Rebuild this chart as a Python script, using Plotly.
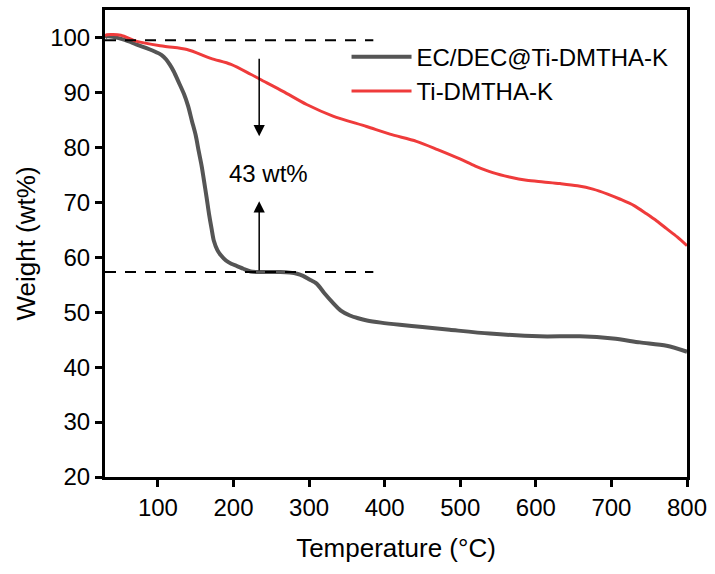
import plotly.graph_objects as go

# EC/DEC@Ti-DMTHA-K (gray)
ec_temp = [30, 33, 55, 72, 95, 105, 111, 116, 121, 127, 134.5, 140, 145, 150, 154, 158, 161, 164.5, 167.6,
           171, 174, 178.7, 183.6, 190, 197, 204.6, 213, 222.7, 235, 250, 262, 274.7, 284, 292, 300, 310,
           320, 331.6, 342, 354, 365, 376.6, 395, 420, 450, 486, 539, 605, 658, 702, 737.7, 773, 800]
ec_weight = [100.0, 100.2, 99.6, 98.7, 97.5, 96.8, 96.0, 95.0, 93.8, 92.0, 89.7, 87.5, 84.8, 82.2, 79.3, 76.5, 73.9, 70.8, 67.9,
             65.2, 63.0, 61.3, 60.3, 59.4, 58.8, 58.4, 57.9, 57.4, 57.3, 57.3, 57.3, 57.2, 57.0, 56.6, 56.0, 55.2,
             53.5, 51.7, 50.3, 49.4, 48.9, 48.5, 48.1, 47.7, 47.3, 46.8, 46.1, 45.6, 45.6, 45.2, 44.5, 43.9, 42.8]

# Ti-DMTHA-K (red)
ti_temp = [30, 32.6, 51, 72, 108, 138.5, 170, 196.7, 222.7, 235, 265.5, 296.8, 331.6, 376, 407, 442,
           470, 499.6, 520, 543, 565, 587.8, 610, 632, 655, 675.5, 695, 711, 730, 746.5, 760, 773, 787, 800]
ti_weight = [100.3, 100.5, 100.4, 99.3, 98.4, 97.8, 96.2, 95.1, 93.3, 92.4, 90.2, 87.8, 85.7, 83.8, 82.4, 81.1,
             79.6, 77.9, 76.6, 75.4, 74.6, 74.0, 73.7, 73.4, 73.0, 72.4, 71.5, 70.6, 69.4, 67.9, 66.6, 65.2, 63.7, 62.1]

ref_levels = [99.5, 57.3]
ref_x_end = 385
arrow_x = 234
down_arrow = [96.4, 82.0]
up_arrow = [57.3, 70.2]
loss_label = "43 wt%"
loss_pos = [246, 75.3]

FONT = "Liberation Sans, Arial, sans-serif"

fig = go.Figure()
fig.add_trace(go.Scatter(x=ec_temp, y=ec_weight, mode="lines", name="EC/DEC@Ti-DMTHA-K",
                         line=dict(color="#555555", width=4, shape="spline", smoothing=0.8)))
fig.add_trace(go.Scatter(x=ti_temp, y=ti_weight, mode="lines", name="Ti-DMTHA-K",
                         line=dict(color="#EF3B3B", width=3, shape="spline", smoothing=0.8)))

for lv in ref_levels:
    fig.add_shape(type="line", xref="x", yref="y", x0=30, x1=ref_x_end, y0=lv, y1=lv,
                  line=dict(color="black", width=2, dash="11px,9px"))

for a in (down_arrow, up_arrow):
    fig.add_annotation(x=arrow_x, y=a[1], ax=arrow_x, ay=a[0], axref="x", ayref="y",
                       xref="x", yref="y", showarrow=True, arrowhead=2, arrowsize=1.5, arrowwidth=1.5,
                       arrowcolor="black", text="")
fig.add_annotation(x=loss_pos[0], y=loss_pos[1], xref="x", yref="y", text=loss_label, showarrow=False,
                   font=dict(size=24, color="black", family=FONT))

axis_common = dict(showline=True, linewidth=3, linecolor="black", mirror=True, ticks="outside",
                   ticklen=7, tickwidth=3, tickcolor="black", showgrid=False, zeroline=False,
                   tickfont=dict(size=24, color="black", family=FONT))

fig.update_xaxes(range=[30, 800], tickvals=[100, 200, 300, 400, 500, 600, 700, 800],
                 title=dict(text="Temperature (°C)", font=dict(size=26, color="black", family=FONT), standoff=20),
                 **axis_common)
fig.update_yaxes(range=[20, 105], tickvals=[20, 30, 40, 50, 60, 70, 80, 90, 100],
                 title=dict(text="Weight (wt%)", font=dict(size=26, color="black", family=FONT), standoff=8),
                 **axis_common)

fig.update_layout(width=715, height=574, margin=dict(l=105, r=28, t=7, b=97),
                  plot_bgcolor="white", paper_bgcolor="white",
                  font=dict(family=FONT, color="black"),
                  legend=dict(x=0.415, y=0.947, xanchor="left", yanchor="top", bgcolor="rgba(0,0,0,0)",
                              font=dict(size=24, family=FONT, color="black"), itemwidth=60,
                              tracegroupgap=0))

fig.write_html("out.html")
